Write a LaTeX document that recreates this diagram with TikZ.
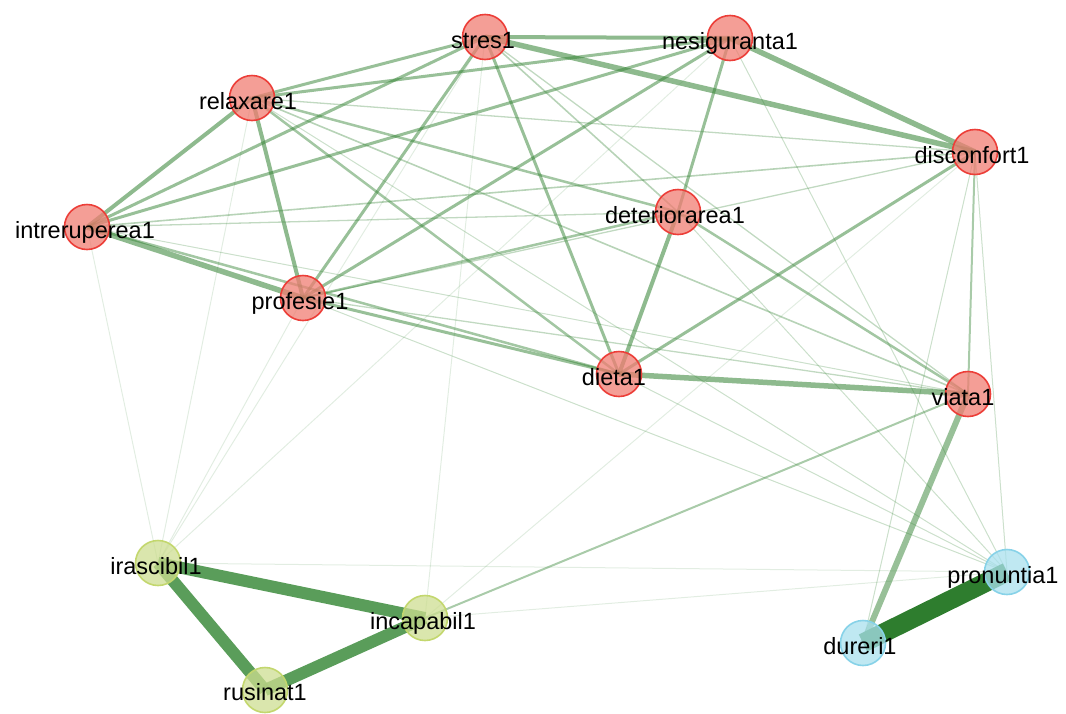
\documentclass[tikz,border=0pt]{standalone}
\usepackage{fontspec}
\setmainfont{Liberation Sans}
\usetikzlibrary{backgrounds}
\definecolor{edgec}{RGB}{50,130,50}
\definecolor{darkedge}{RGB}{46,125,46}
\definecolor{trie}{RGB}{72,146,72}
\definecolor{redfill}{RGB}{240,125,115}
\definecolor{redline}{RGB}{236,62,56}
\definecolor{yelfill}{RGB}{206,222,145}
\definecolor{yelline}{RGB}{195,215,110}
\definecolor{blufill}{RGB}{169,224,238}
\definecolor{bluline}{RGB}{135,210,232}
\tikzset{
  vtx/.style={circle, minimum size=45pt, inner sep=0pt, line width=1.6pt, fill opacity=0.75},
  rednode/.style={vtx, fill=redfill, draw=redline},
  yelnode/.style={vtx, fill=yelfill, draw=yelline},
  blunode/.style={vtx, fill=blufill, draw=bluline},
  lab/.style={font=\fontsize{23.5}{23.5}\selectfont, text=black, inner sep=0pt, anchor=base},
  ew/.style 2 args={draw=edgec, line width=#1pt, draw opacity=#2},
}
\begin{document}
\begin{tikzpicture}[x=1pt,y=-1pt]
\useasboundingbox (0,0) rectangle (1066,713);
% nodes
\node[rednode] (S) at (485,37) {};
\node[rednode] (N) at (730,38) {};
\node[rednode] (R) at (252,98) {};
\node[rednode] (D) at (975,152) {};
\node[rednode] (I) at (87,227) {};
\node[rednode] (T) at (678,212) {};
\node[rednode] (P) at (303,298) {};
\node[rednode] (E) at (619,374) {};
\node[rednode] (V) at (968,394) {};
\node[yelnode] (A) at (158,563) {};
\node[yelnode] (C) at (425,618) {};
\node[yelnode] (U) at (265,690) {};
\node[blunode] (O) at (1007,572) {};
\node[blunode] (Q) at (863,643) {};
% edges
\begin{pgfonlayer}{background}
\foreach \a/\b in {A/I, A/R, A/P, A/S, A/N, C/S, A/O, C/O, C/D}
  \draw[ew={1}{0.14}] (\a.center) -- (\b.center);
\foreach \a/\b in {I/V, D/O, E/O, D/Q, N/O, T/O, P/O, R/O}
  \draw[ew={1}{0.25}] (\a.center) -- (\b.center);
\foreach \a/\b in {S/V, I/T, P/D, R/D, P/V}
  \draw[ew={1.3}{0.3}] (\a.center) -- (\b.center);
\foreach \a/\b in {S/T, R/V, I/D}
  \draw[ew={1.6}{0.35}] (\a.center) -- (\b.center);
\foreach \a/\b in {D/V, C/V}
  \draw[ew={2}{0.42}] (\a.center) -- (\b.center);
\foreach \a/\b in {I/E, R/T, R/E, P/T, T/V}
  \draw[ew={2.5}{0.45}] (\a.center) -- (\b.center);
\foreach \a/\b in {S/I, S/R, S/P, S/E, N/R, N/I, N/P, N/T, P/E, E/D}
  \draw[ew={3}{0.5}] (\a.center) -- (\b.center);
\foreach \a/\b in {S/N, R/I, R/P, T/E}
  \draw[ew={4}{0.55}] (\a.center) -- (\b.center);
\foreach \a/\b in {E/V, S/D, N/D, I/P}
  \draw[ew={5.5}{0.55}] (\a.center) -- (\b.center);
\draw[ew={6}{0.5}] (V.center) -- (Q.center);
\foreach \a/\b in {A/C, A/U, U/C}
  \draw[draw=trie, line width=12pt, draw opacity=0.9] (\a.center) -- (\b.center);
\draw[draw=darkedge, line width=19pt] (Q.center) -- (O.center);
\end{pgfonlayer}
% labels
\node[lab] (Sl) at (483,48) {stres1};
\node[lab] (Nl) at (730,49) {nesiguranta1};
\node[lab] (Rl) at (248,109) {relaxare1};
\node[lab] (Dl) at (972,163) {disconfort1};
\node[lab] (Il) at (85,238) {intreruperea1};
\node[lab] (Tl) at (675,223) {deteriorarea1};
\node[lab] (Pl) at (300,309) {profesie1};
\node[lab] (El) at (614,385) {dieta1};
\node[lab] (Vl) at (963,405) {viata1};
\node[lab] (Al) at (156,574) {irascibil1};
\node[lab] (Cl) at (423,629) {incapabil1};
\node[lab] (Ul) at (265,700) {rusinat1};
\node[lab] (Ol) at (1003,583) {pronuntia1};
\node[lab] (Ql) at (860,654) {dureri1};
\end{tikzpicture}
\end{document}
